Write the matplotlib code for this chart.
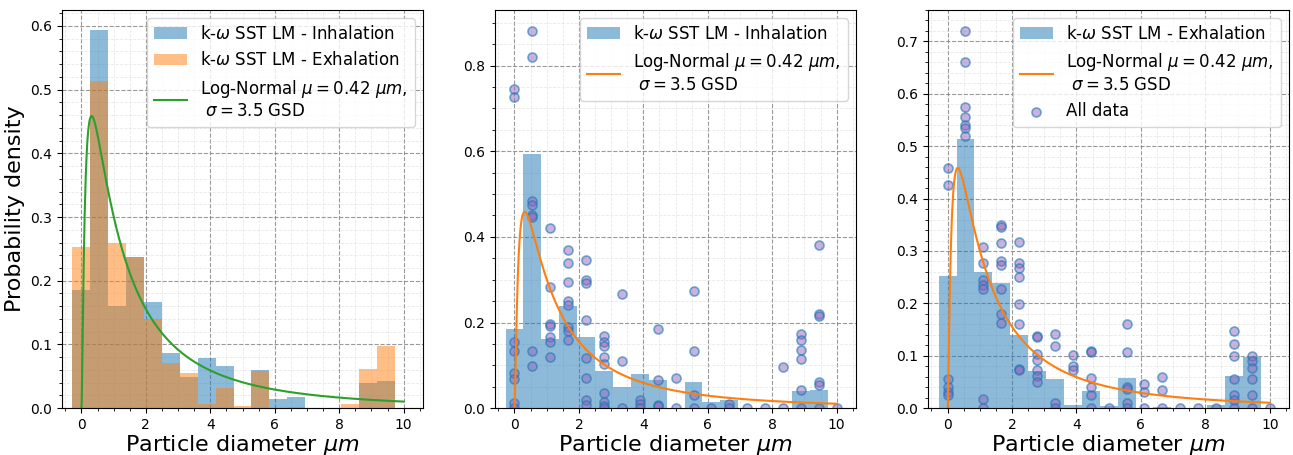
import numpy as np
import matplotlib
matplotlib.use('Agg')
import matplotlib.pyplot as plt
from matplotlib.colors import to_rgba

# bin centres (particle diameter, um)
centers = [0.0, 0.556, 1.111, 1.667, 2.222, 2.778, 3.333, 3.889, 4.444,
           5.0, 5.556, 6.111, 6.667, 7.222, 7.778, 8.333, 8.889, 9.444]
bin_width = 0.556

inhal_density = [0.185, 0.594, 0.161, 0.238, 0.166, 0.086, 0.049, 0.079, 0.066,
                 0.0, 0.060, 0.014, 0.018, 0.0, 0.0, 0.0, 0.039, 0.043]
exhal_density = [0.253, 0.513, 0.260, 0.238, 0.140, 0.071, 0.055, 0.006, 0.032,
                 0.004, 0.058, 0.0, 0.002, 0.0, 0.0, 0.006, 0.062, 0.098]

# per-case densities ("All data"), grouped by diameter
pt_x = [0.0, 0.556, 1.111, 1.667, 2.222, 2.778, 3.333, 3.889, 4.444, 5.0,
        5.556, 6.111, 6.667, 7.222, 7.778, 8.333, 8.889, 9.444, 10.0]
inhal_pts = [
    [0.745, 0.727, 0.155, 0.133, 0.083, 0.067, 0.013, 0.0],
    [0.88, 0.82, 0.483, 0.475, 0.452, 0.447, 0.133, 0.098],
    [0.42, 0.283, 0.197, 0.192, 0.165, 0.155, 0.12],
    [0.37, 0.34, 0.295, 0.25, 0.24, 0.19, 0.18, 0.16],
    [0.347, 0.30, 0.293, 0.205, 0.117, 0.07, 0.02, 0.008],
    [0.168, 0.155, 0.145, 0.12, 0.102, 0.035, 0.015, 0.005, 0.0],
    [0.267, 0.11, 0.0],
    [0.018, 0.01, 0.0],
    [0.184, 0.065, 0.008, 0.004],
    [0.07, 0.0],
    [0.274, 0.133, 0.03, 0.0],
    [0.0],
    [0.01, 0.0],
    [0.0],
    [0.0],
    [0.097, 0.0],
    [0.174, 0.158, 0.136, 0.115, 0.043, 0.0],
    [0.38, 0.22, 0.215, 0.06, 0.055, 0.0],
    [0.0],
]
exhal_pts = [
    [0.458, 0.425, 0.055, 0.04, 0.03, 0.025],
    [0.72, 0.66, 0.575, 0.555, 0.54, 0.535, 0.52],
    [0.307, 0.278, 0.245, 0.235, 0.228, 0.018, 0.0],
    [0.35, 0.345, 0.315, 0.28, 0.273, 0.227, 0.18, 0.162],
    [0.317, 0.277, 0.268, 0.25, 0.198, 0.16, 0.075, 0.072],
    [0.137, 0.135, 0.103, 0.092, 0.072, 0.062, 0.05],
    [0.141, 0.118, 0.01, 0.0],
    [0.102, 0.08, 0.072],
    [0.11, 0.108, 0.058, 0.04, 0.025, 0.0],
    [0.0],
    [0.161, 0.108, 0.04, 0.036, 0.01, 0.0],
    [0.047, 0.03, 0.0],
    [0.06, 0.035, 0.0],
    [0.0],
    [0.0],
    [0.0],
    [0.147, 0.123, 0.1, 0.056, 0.025, 0.015, 0.0],
    [0.1, 0.09, 0.076, 0.056, 0.025, 0.0],
    [0.0],
]

# log-normal fit parameters
ln_mu = 0.42
gsd = 3.5

pt_face = to_rgba('C4', 0.5)
pt_edge = to_rgba('C0', 0.6)


def lognormal_pdf(x, mu, g):
    s = np.log(g)
    return np.exp(-(np.log(x) - mu) ** 2 / (2 * s ** 2)) / (x * s * np.sqrt(2 * np.pi))


def flatten(xs, groups):
    xx, yy = [], []
    for x, g in zip(xs, groups):
        for v in g:
            xx.append(x)
            yy.append(v)
    return xx, yy


def style_axes(ax):
    ax.minorticks_on()
    ax.grid(which='major', color='gray', linestyle='--', linewidth=0.8, alpha=0.8)
    ax.grid(which='minor', color='lightgray', linestyle='--', linewidth=0.6, alpha=0.5)
    ax.set_axisbelow(True)
    ax.set_xlabel(r'Particle diameter $\mu m$', fontsize=16, labelpad=1)
    ax.set_xticks([0, 2, 4, 6, 8, 10])
    ax.set_xlim(-0.6, 10.6)
    ax.tick_params(labelsize=10)


xc = np.linspace(0.001, 10, 1000)
yc = lognormal_pdf(xc, ln_mu, gsd)
fit_label = r'Log-Normal $\mu = 0.42\ \mu m$,' + '\n' + r' $\sigma = 3.5$ GSD'

fig, axes = plt.subplots(1, 3, figsize=(12.93, 4.55), dpi=100)
fig.subplots_adjust(left=0.048, right=0.997, top=0.978, bottom=0.103, wspace=0.2)

# panel 1
ax = axes[0]
b1 = ax.bar(centers, inhal_density, width=bin_width, color='C0', alpha=0.5,
            label=r'k-$\omega$ SST LM - Inhalation')
b2 = ax.bar(centers, exhal_density, width=bin_width, color='C1', alpha=0.5,
            label=r'k-$\omega$ SST LM - Exhalation')
l1, = ax.plot(xc, yc, color='C2', linewidth=1.5, label=fit_label)
ax.set_ylim(0, 0.625)
ax.set_ylabel('Probability density', fontsize=16)
style_axes(ax)
ax.legend(handles=[b1, b2, l1], loc='upper right', fontsize=12)

# panel 2
ax = axes[1]
px, py = flatten(pt_x, inhal_pts)
b1 = ax.bar(centers, inhal_density, width=bin_width, color='C0', alpha=0.5,
            label=r'k-$\omega$ SST LM - Inhalation')
l1, = ax.plot(xc, yc, color='C1', linewidth=1.5, label=fit_label)
ax.scatter(px, py, s=42, facecolors=pt_face, edgecolors=pt_edge, linewidths=1.2)
ax.set_ylim(0, 0.93)
ax.set_yticks([0, 0.2, 0.4, 0.6, 0.8])
style_axes(ax)
ax.legend(handles=[b1, l1], loc='upper right', fontsize=12)

# panel 3
ax = axes[2]
px, py = flatten(pt_x, exhal_pts)
b1 = ax.bar(centers, exhal_density, width=bin_width, color='C0', alpha=0.5,
            label=r'k-$\omega$ SST LM - Exhalation')
l1, = ax.plot(xc, yc, color='C1', linewidth=1.5, label=fit_label)
s1 = ax.scatter(px, py, s=42, facecolors=pt_face, edgecolors=pt_edge, linewidths=1.2,
                label='All data')
ax.set_ylim(0, 0.76)
style_axes(ax)
ax.legend(handles=[b1, l1, s1], loc='upper right', fontsize=12)

fig.savefig('out.png', dpi=100)
